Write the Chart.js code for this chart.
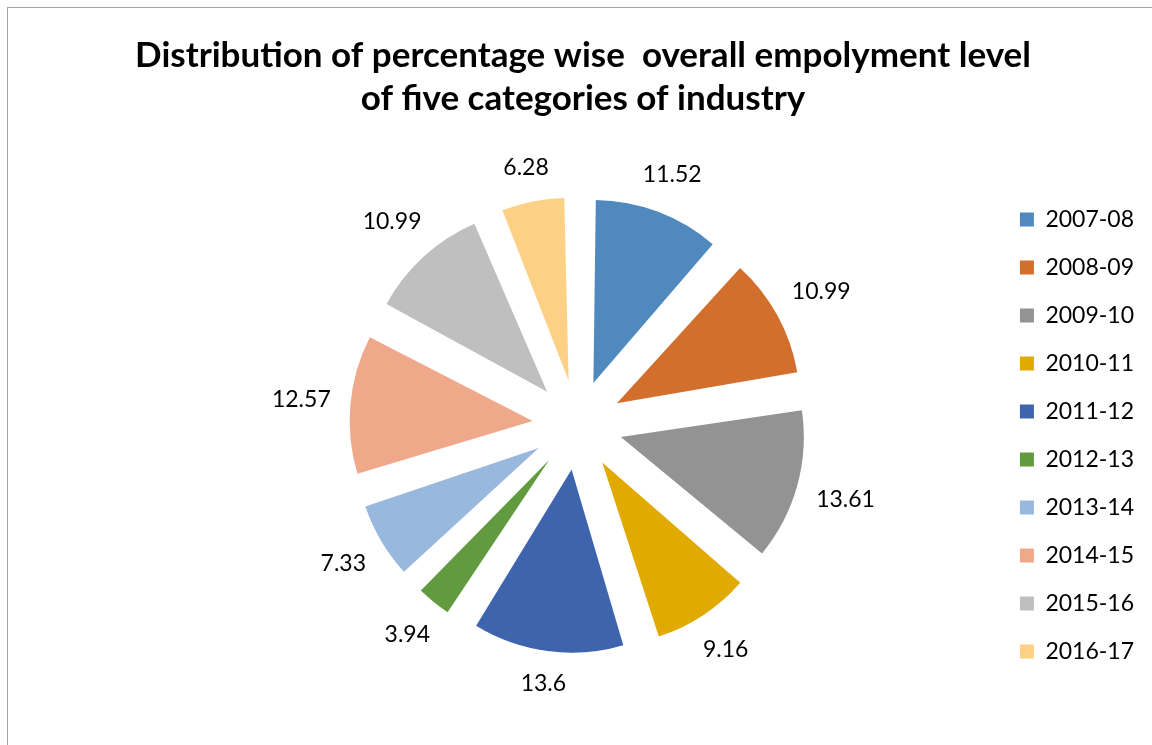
<!DOCTYPE html>
<html>
<head>
<meta charset="utf-8">
<script src="https://cdn.jsdelivr.net/npm/chart.js@4"></script>
<style>
  html, body { margin: 0; padding: 0; background: #fff; overflow: hidden; }
  .frame {
    position: absolute; left: 7px; top: 7px;
    width: 1170px; height: 760px;
    border: 1px solid #a6a6a6; box-sizing: border-box;
  }
  .wrap { position: absolute; left: 0; top: 0; width: 1152px; height: 745px; }
</style>
</head>
<body>
<div class="frame"></div>
<div class="wrap"><canvas id="myChart"></canvas></div>
<script>
const titleLines = ["Distribution of percentage wise  overall empolyment level", "of five categories of industry"];
const years = ["2007-08","2008-09","2009-10","2010-11","2011-12","2012-13","2013-14","2014-15","2015-16","2016-17"];
const shares = [11.52, 10.99, 13.61, 9.16, 13.6, 3.94, 7.33, 12.57, 10.99, 6.28];
const sliceColors = ["#4f89bd","#d36f2c","#939393","#e0aa00","#3d64ad","#629a40","#98b8de","#f0a88a","#bfbfbf","#fdd185"];

const fontFamily = "Lato, 'Open Sans', sans-serif";
const pieRadius = 183;
const explode = 180; // chart.js moves an arc by offset / 4

// chart.js also grows narrow exploded arcs; keep every slice the same radius
const evenRadius = {
  id: "evenRadius",
  afterDatasetUpdate(chart) {
    const meta = chart.getDatasetMeta(0);
    meta.data.forEach(arc => {
      const circ = arc.endAngle - arc.startAngle;
      const fix = 1 - Math.sin(Math.min(Math.PI, circ));
      arc.outerRadius = pieRadius - (explode / 4) * fix;
    });
  }
};

// values written just outside each exploded slice
const outsideLabels = {
  id: "outsideLabels",
  afterDatasetsDraw(chart) {
    const ctx = chart.ctx;
    const meta = chart.getDatasetMeta(0);
    ctx.save();
    ctx.font = "23px " + fontFamily;
    ctx.fillStyle = "#000";
    ctx.textAlign = "center";
    ctx.textBaseline = "middle";
    meta.data.forEach((arc, i) => {
      const p = arc.getProps(["x","y","startAngle","endAngle"], true);
      const mid = (p.startAngle + p.endAngle) / 2;
      const txt = String(shares[i]);
      const w = ctx.measureText(txt).width;
      const cx = Math.cos(mid), cy = Math.sin(mid);
      const r = pieRadius + explode / 4 + 19 + Math.abs(cx) * w / 2 + Math.abs(cy) * 11;
      ctx.fillText(txt, p.x + cx * r, p.y + cy * r);
    });
    ctx.restore();
  }
};

// two line bold heading centred over the whole picture
const heading = {
  id: "heading",
  afterDraw(chart) {
    const ctx = chart.ctx;
    ctx.save();
    ctx.font = "bold 35px " + fontFamily;
    ctx.fillStyle = "#000";
    ctx.textAlign = "center";
    ctx.textBaseline = "middle";
    titleLines.forEach((line, i) => ctx.fillText(line, 583, 56 + i * 43));
    ctx.restore();
  }
};

const ctx = document.getElementById("myChart");
const myChart = new Chart(ctx, {
  type: "pie",
  data: {
    labels: years,
    datasets: [{
      data: shares,
      backgroundColor: sliceColors,
      borderWidth: 0,
      offset: explode,
      hoverOffset: explode
    }]
  },
  options: {
    responsive: true,
    maintainAspectRatio: false,
    animation: false,
    radius: pieRadius,
    layout: { padding: { left: 160, right: 8, top: 125, bottom: 20 } },
    plugins: {
      title: { display: false },
      legend: {
        position: "right",
        title: { display: true, text: "", font: { size: 1, lineHeight: 1 }, padding: { top: 10, bottom: 10 } },
        labels: {
          color: "#000",
          font: { family: fontFamily, size: 23 },
          boxWidth: 14,
          boxHeight: 14,
          padding: 25
        }
      },
      tooltip: { enabled: false }
    }
  },
  plugins: [evenRadius, outsideLabels, heading]
});
</script>
</body>
</html>
